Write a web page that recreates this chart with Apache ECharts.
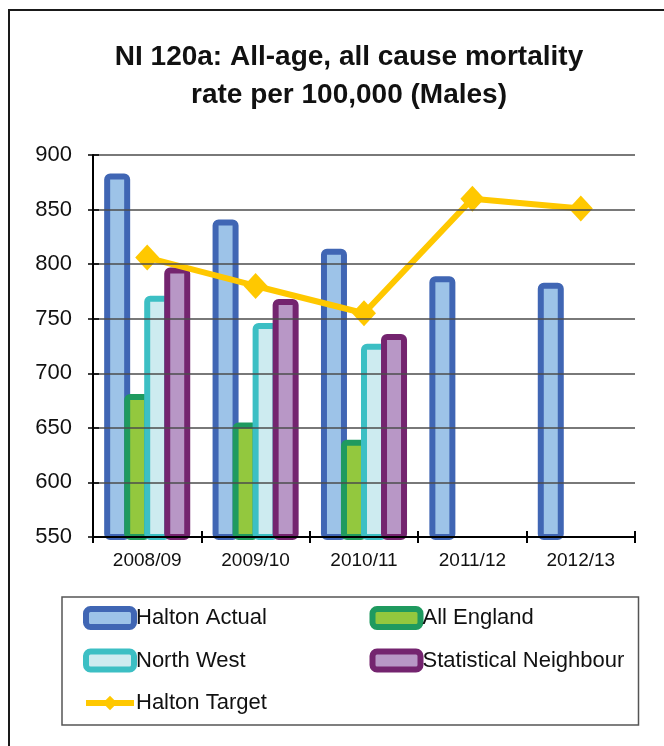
<!DOCTYPE html>
<html>
<head>
<meta charset="utf-8">
<script src="https://cdn.jsdelivr.net/npm/echarts@6/dist/echarts.min.js"></script>
<style>
  html, body { margin: 0; padding: 0; background: #ffffff; }
  #chart { width: 664px; height: 746px; }
</style>
</head>
<body>
<div id="chart"></div>
<script>
// Financial years on the category axis
const years = ['2008/09', '2009/10', '2010/11', '2011/12', '2012/13'];

// Mortality rate per 100,000 (males), by area
const haltonActual  = [883, 841, 814, 789, 783];
const allEngland    = [681, 655, 639, null, null];
const northWest     = [771, 746, 727, null, null];
const statNeighbour = [797, 768, 736, null, null];
const haltonTarget  = [806, 780, 755, 860, 851];

// Value axis range
const yMin = 550;
const yMax = 900;
const yStep = 50;

const FONT = "'Liberation Sans', Arial, sans-serif";
const gridRect = { left: 93, right: 29, top: 155, bottom: 209 };

function barSeries(name, data, edge, fill) {
  return {
    name: name,
    type: 'bar',
    data: data,
    barWidth: 26,
    barGap: '-23%',
    itemStyle: {
      color: fill,
      borderColor: edge,
      borderWidth: 6,
      borderRadius: 3,
      borderJoin: 'round'
    },
    emphasis: { disabled: true },
    z: 2
  };
}

const chart = echarts.init(document.getElementById('chart'), null, { renderer: 'canvas' });

chart.setOption({
  backgroundColor: '#ffffff',
  animation: false,
  textStyle: { fontFamily: FONT },
  title: {
    text: 'NI 120a: All-age, all cause mortality\nrate per 100,000 (Males)',
    left: 349,
    top: 38,
    textAlign: 'center',
    padding: 0,
    textStyle: {
      fontFamily: FONT,
      fontSize: 28,
      fontWeight: 'bold',
      color: '#111111',
      lineHeight: 38
    }
  },
  graphic: [{
    type: 'rect',
    silent: true,
    shape: { x: 9, y: 10, width: 720, height: 800 },
    style: { fill: 'none', stroke: '#1a1a1a', lineWidth: 2 }
  }],
  legend: {
    left: 62,
    top: 597,
    width: 578,
    padding: [9, 1, 11, 21],
    borderColor: '#555555',
    borderWidth: 1.5,
    itemWidth: 48,
    itemHeight: 18,
    itemGap: 18.5,
    textStyle: {
      fontFamily: FONT,
      fontSize: 22,
      color: '#111111',
      width: 215,
      lineHeight: 22,
      padding: [0, 0, 0, -3]
    },
    data: [
      { name: 'Halton Actual', icon: 'roundRect', itemStyle: { borderWidth: 6 } },
      { name: 'All England', icon: 'roundRect', itemStyle: { borderWidth: 6 } },
      { name: 'North West', icon: 'roundRect', itemStyle: { borderWidth: 6 } },
      { name: 'Statistical Neighbour', icon: 'roundRect', itemStyle: { borderWidth: 6 } },
      { name: 'Halton Target', itemStyle: { borderWidth: 0 }, lineStyle: { width: 6 } }
    ]
  },
  grid: [
    Object.assign({}, gridRect),
    Object.assign({}, gridRect)
  ],
  xAxis: [{
    type: 'category',
    gridIndex: 0,
    data: years,
    z: 5,
    axisLine: { lineStyle: { color: '#000000', width: 2 } },
    axisTick: { show: true, inside: false, length: 6, lineStyle: { color: '#000000', width: 2 } },
    axisLabel: { fontFamily: FONT, fontSize: 19, color: '#111111', margin: 14 },
    splitLine: { show: false }
  }, {
    type: 'category',
    gridIndex: 1,
    data: years,
    z: 5,
    axisLine: { show: false },
    axisTick: { show: true, inside: true, length: 6, lineStyle: { color: '#000000', width: 2 } },
    axisLabel: { show: false },
    splitLine: { show: false }
  }],
  yAxis: [{
    type: 'value',
    gridIndex: 0,
    min: yMin,
    max: yMax,
    interval: yStep,
    z: 5,
    axisLine: { show: true, lineStyle: { color: '#000000', width: 2 } },
    axisTick: { show: true, inside: false, length: 5, lineStyle: { color: '#000000', width: 1.5 } },
    axisLabel: { fontFamily: FONT, fontSize: 22, color: '#111111', margin: 21 },
    splitLine: { show: true, lineStyle: { color: '#4d4d4d', width: 1.5 } }
  }, {
    type: 'value',
    gridIndex: 1,
    min: yMin,
    max: yMax,
    interval: yStep,
    z: 5,
    axisLine: { show: false },
    axisTick: { show: true, inside: true, length: 6, lineStyle: { color: '#000000', width: 1.5 } },
    axisLabel: { show: false },
    splitLine: { show: false }
  }],
  series: [
    barSeries('Halton Actual', haltonActual, '#4066b4', '#9dc3e8'),
    barSeries('All England', allEngland, '#1f9a5f', '#93c83e'),
    barSeries('North West', northWest, '#3cbfc4', '#cdebf0'),
    barSeries('Statistical Neighbour', statNeighbour, '#74246f', '#b897c6'),
    {
      name: 'Halton Target',
      type: 'line',
      data: haltonTarget,
      symbol: 'diamond',
      symbolSize: [24, 26],
      lineStyle: { color: '#ffc800', width: 6 },
      itemStyle: { color: '#ffc800', borderWidth: 0 },
      emphasis: { disabled: true },
      z: 4
    }
  ]
});
</script>
</body>
</html>
